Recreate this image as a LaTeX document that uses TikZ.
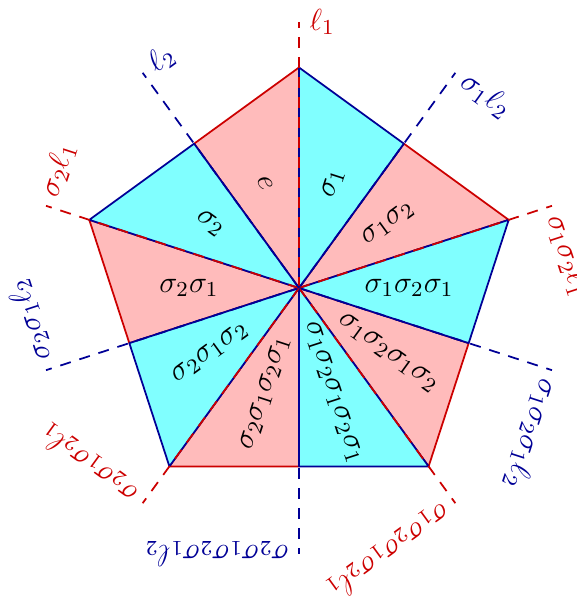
\documentclass[tikz,border=0pt]{standalone}
\usepackage{fix-cm}
\definecolor{pinkf}{RGB}{255,187,187}
\definecolor{cyanf}{RGB}{128,255,255}
\definecolor{redl}{RGB}{204,0,0}
\definecolor{bluel}{RGB}{0,0,150}
\tikzset{
  lab/.style={font=\fontsize{12.2}{14}\selectfont, inner sep=0pt},
  outlab/.style={font=\fontsize{12.2}{14}\selectfont, anchor=west, inner sep=4pt},
  pinktri/.style={fill=pinkf, draw=redl, line width=0.7pt, line join=round},
  cyantri/.style={fill=cyanf, draw=bluel, line width=0.7pt, line join=round},
  ray/.style={dash pattern=on 4.4pt off 3.6pt, line width=0.7pt}
}
\begin{document}
\begin{tikzpicture}[x=0.4pt,y=0.4pt]
\useasboundingbox (-299,-309) rectangle (277,288);
\coordinate (O) at (0,0);
\foreach \i in {0,...,4}{
  \pgfmathsetmacro{\a}{90-72*\i}
  \coordinate (V\i) at (\a:220.5);
  \coordinate (P\i) at (\a+36:178.4);
  \coordinate (C\i) at (\a-36:178.4);
}
% pink triangles
\foreach \i in {0,...,4}{
  \path[pinktri] (O) -- (V\i) -- (P\i) -- cycle;
}
% cyan triangles
\foreach \i in {0,...,4}{
  \path[cyantri] (O) -- (V\i) -- (C\i) -- cycle;
}
% rays with labels
\foreach \a/\c/\t [count=\k] in {
  90/redl/{\ell_1},
  54/bluel/{\sigma_1\ell_2},
  18/redl/{\sigma_1\sigma_2\ell_1},
  -18/bluel/{\sigma_1\sigma_2\sigma_1\ell_2},
  -54/redl/{\sigma_1\sigma_2\sigma_1\sigma_2\ell_1},
  -90/bluel/{\sigma_2\sigma_1\sigma_2\sigma_1\ell_2},
  -126/redl/{\sigma_2\sigma_1\sigma_2\ell_1},
  -162/bluel/{\sigma_2\sigma_1\ell_2},
  162/redl/{\sigma_2\ell_1},
  126/bluel/{\ell_2}}{
  \coordinate (E\k) at (\a:266);
  \draw[ray, \c] (O) -- (E\k);
  \node[outlab, text=\c, rotate=\a-90] (L\k) at (E\k) {$\t$};
}
% triangle labels
\foreach \m/\r/\t [count=\k] in {
  72/72/{\sigma_1},
  36/36/{\sigma_1\sigma_2},
  0/0/{\sigma_1\sigma_2\sigma_1},
  -36/-36/{\sigma_1\sigma_2\sigma_1\sigma_2},
  -72/-72/{\sigma_1\sigma_2\sigma_1\sigma_2\sigma_1},
  -108/72/{\sigma_2\sigma_1\sigma_2\sigma_1},
  -144/36/{\sigma_2\sigma_1\sigma_2},
  180/0/{\sigma_2\sigma_1},
  144/-36/{\sigma_2},
  108/-72/{e}}{
  \node[lab, rotate=\r] (T\k) at (\m:110) {$\t$};
}
\end{tikzpicture}
\end{document}
